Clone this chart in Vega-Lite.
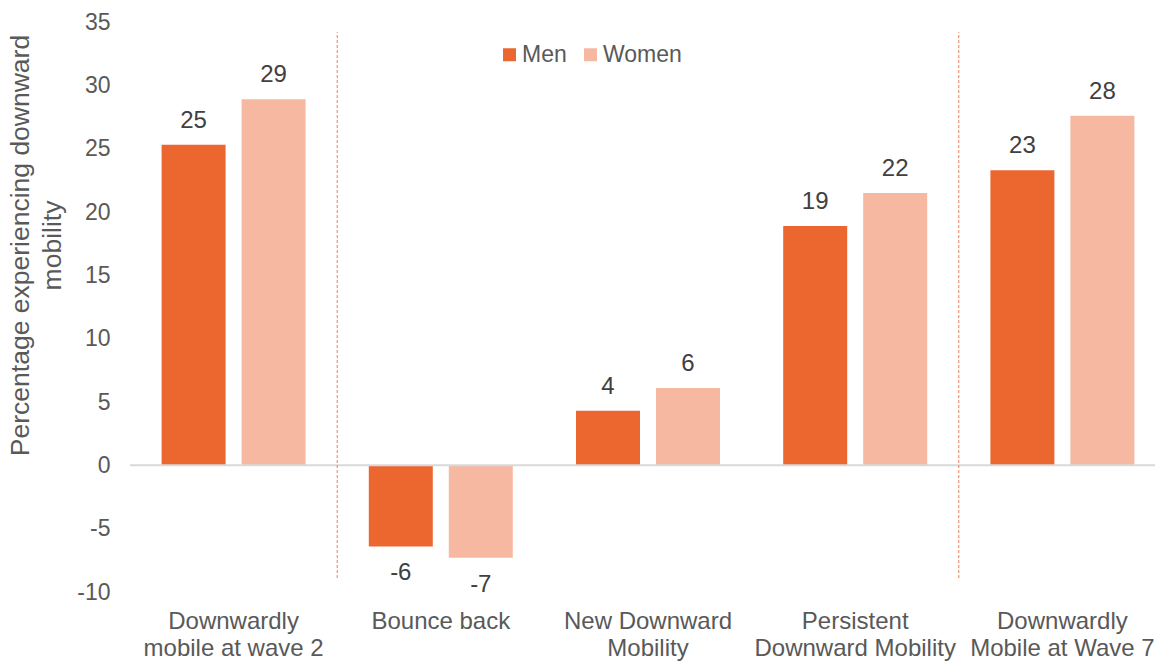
{
  "$schema": "https://vega.github.io/schema/vega-lite/v6.json",
  "autosize": "none",
  "padding": {"left": 130, "top": 22, "right": 0, "bottom": 69},
  "width": 1025,
  "height": 570,
  "config": {
    "view": {"stroke": null},
    "font": "Liberation Sans",
    "locale": {"number": {"decimal": ".", "thousands": ",", "grouping": [3], "currency": ["$", ""], "minus": "-"}}
  },
  "datasets": {
    "bars": [
      {"cat": "Downwardly mobile at wave 2", "sex": "Men", "value": 25.3},
      {"cat": "Downwardly mobile at wave 2", "sex": "Women", "value": 28.9},
      {"cat": "Bounce back", "sex": "Men", "value": -6.4},
      {"cat": "Bounce back", "sex": "Women", "value": -7.3},
      {"cat": "New Downward Mobility", "sex": "Men", "value": 4.3},
      {"cat": "New Downward Mobility", "sex": "Women", "value": 6.1},
      {"cat": "Persistent Downward Mobility", "sex": "Men", "value": 18.9},
      {"cat": "Persistent Downward Mobility", "sex": "Women", "value": 21.5},
      {"cat": "Downwardly Mobile at Wave 7", "sex": "Men", "value": 23.3},
      {"cat": "Downwardly Mobile at Wave 7", "sex": "Women", "value": 27.6}
    ],
    "dividers": [
      {"cat": "Bounce back", "lo": -8.9, "hi": 34.2},
      {"cat": "Downwardly Mobile at Wave 7", "lo": -8.9, "hi": 34.2}
    ]
  },
  "encoding": {
    "x": {
      "field": "cat",
      "type": "nominal",
      "sort": null,
      "scale": {"paddingInner": 0, "paddingOuter": 0, "range": [0, 1036], "domain": ["Downwardly mobile at wave 2", "Bounce back", "New Downward Mobility", "Persistent Downward Mobility", "Downwardly Mobile at Wave 7"]},
      "axis": {
        "title": null,
        "domain": false,
        "ticks": false,
        "labelAngle": 0,
        "labelFontSize": 24,
        "labelColor": "#595959",
        "labelPadding": 17,
        "labelLineHeight": 27,
        "labelBaseline": "top",
        "labelLimit": 0,
        "labelOverlap": false,
        "labelExpr": "datum.label == 'Downwardly mobile at wave 2' ? ['Downwardly', 'mobile at wave 2'] : datum.label == 'New Downward Mobility' ? ['New Downward', 'Mobility'] : datum.label == 'Persistent Downward Mobility' ? ['Persistent', 'Downward Mobility'] : datum.label == 'Downwardly Mobile at Wave 7' ? ['Downwardly', 'Mobile at Wave 7'] : datum.label"
      }
    }
  },
  "layer": [
    {
      "data": {"name": "bars"},
      "mark": {"type": "bar"},
      "encoding": {
        "xOffset": {"field": "sex", "type": "nominal", "scale": {"paddingInner": 0.2, "paddingOuter": 0.395}},
        "y": {
          "field": "value",
          "type": "quantitative",
          "scale": {"domain": [-10, 35], "nice": false, "zero": false},
          "axis": {
            "values": [-10, -5, 0, 5, 10, 15, 20, 25, 30, 35],
            "domain": false,
            "ticks": false,
            "grid": false,
            "labelFontSize": 23,
            "labelColor": "#595959",
            "labelPadding": 20,
            "title": ["Percentage experiencing downward", "mobility"],
            "titleFontSize": 26.5,
            "titleFontWeight": "normal",
            "titleColor": "#595959",
            "titleLineHeight": 32,
            "titleAngle": -90,
            "titleAlign": "center",
            "titleBaseline": "top",
            "titleX": -123,
            "titleY": 223
          }
        },
        "color": {
          "field": "sex",
          "type": "nominal",
          "scale": {"domain": ["Men", "Women"], "range": ["#EC6630", "#F6B8A0"]},
          "legend": {
            "title": null,
            "orient": "none",
            "direction": "horizontal",
            "legendX": 368,
            "legendY": 21,
            "padding": 0,
            "symbolType": "square",
            "symbolSize": 169,
            "symbolStrokeWidth": 0,
            "labelFontSize": 23,
            "labelColor": "#595959",
            "labelOffset": 1,
            "columnPadding": 12
          }
        }
      }
    },
    {
      "data": {"values": [{}]},
      "mark": {"type": "rule", "color": "#D9D9D9", "strokeWidth": 2},
      "encoding": {"y": {"datum": 0, "type": "quantitative"}, "x": null}
    },
    {
      "data": {"name": "dividers"},
      "mark": {"type": "rule", "color": "#ED7D51", "strokeWidth": 1, "strokeDash": [3, 2]},
      "encoding": {
        "x": {"field": "cat", "type": "nominal", "sort": null, "bandPosition": 0},
        "y": {"field": "lo", "type": "quantitative"},
        "y2": {"field": "hi"}
      }
    },
    {
      "data": {"name": "bars"},
      "transform": [{"filter": "datum.value >= 0"}],
      "mark": {"type": "text", "baseline": "middle", "dy": -24, "fontSize": 24, "color": "#404040"},
      "encoding": {
        "xOffset": {"field": "sex", "type": "nominal", "scale": {"paddingInner": 0.2, "paddingOuter": 0.395}},
        "y": {"field": "value", "type": "quantitative"},
        "text": {"field": "value", "type": "quantitative", "format": ".0f"}
      }
    },
    {
      "data": {"name": "bars"},
      "transform": [{"filter": "datum.value < 0"}],
      "mark": {"type": "text", "baseline": "middle", "dy": 27, "fontSize": 24, "color": "#404040"},
      "encoding": {
        "xOffset": {"field": "sex", "type": "nominal", "scale": {"paddingInner": 0.2, "paddingOuter": 0.395}},
        "y": {"field": "value", "type": "quantitative"},
        "text": {"field": "value", "type": "quantitative", "format": ".0f"}
      }
    }
  ]
}
